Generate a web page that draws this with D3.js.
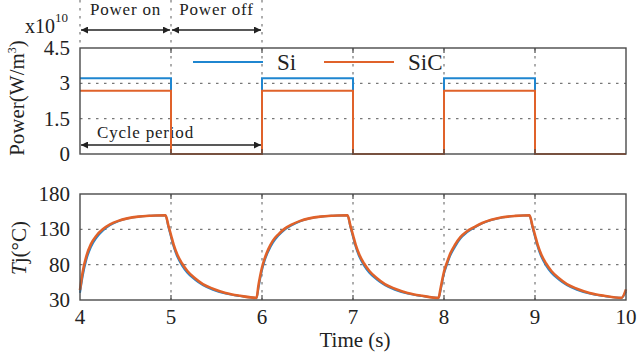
<!DOCTYPE html>
<html>
<head>
<meta charset="utf-8">
<script src="https://cdn.jsdelivr.net/npm/d3@7"></script>
<style>
  body { margin: 0; background: #fff; }
  svg text { font-family: "Liberation Serif", "Times New Roman", "DejaVu Serif", serif; fill: #222; }
</style>
</head>
<body>
<script>
// x axis
var timeTicks = [4, 5, 6, 7, 8, 9, 10]
var powerTicks = [0, 1.5, 3, 4.5]
var tjTicks = [30, 80, 130, 180]

// power pulses (x10^10 W/m^3)
var powerTime = [4, 5, 5, 6, 6, 7, 7, 8, 8, 9, 9, 10]
var powerSi   = [3.22, 3.22, 0, 0, 3.22, 3.22, 0, 0, 3.22, 3.22, 0, 0]
var powerSiC  = [2.68, 2.68, 0, 0, 2.68, 2.68, 0, 0, 2.68, 2.68, 0, 0]

// junction temperature
var tjTime = [
  4.00, 4.03, 4.07, 4.12, 4.18, 4.25, 4.33, 4.42, 4.52, 4.64, 4.78, 4.94,
  4.97, 5.00, 5.03, 5.07, 5.12, 5.18, 5.26, 5.35, 5.46, 5.60, 5.76, 5.94,
  5.96, 5.98, 6.00, 6.03, 6.07, 6.12, 6.18, 6.25, 6.33, 6.42, 6.52, 6.64, 6.78, 6.94,
  6.97, 7.00, 7.03, 7.07, 7.12, 7.18, 7.26, 7.35, 7.46, 7.60, 7.76, 7.94,
  7.96, 7.98, 8.00, 8.03, 8.07, 8.12, 8.18, 8.25, 8.33, 8.42, 8.52, 8.64, 8.78, 8.94,
  8.97, 9.00, 9.03, 9.07, 9.12, 9.18, 9.26, 9.35, 9.46, 9.60, 9.76, 9.95, 10.00
]
var tjSiC = [
  44, 70, 92, 109, 121, 130, 137, 142, 145.5, 148, 149.3, 150,
  136, 122, 108, 94, 82, 71, 61, 52.5, 46, 40, 36, 33,
  50, 64, 76, 89, 102, 114, 123, 131, 137, 142, 145.5, 148, 149.3, 150,
  136, 122, 108, 94, 82, 71, 61, 52.5, 46, 40, 36, 33,
  45, 58, 70, 82, 96, 108, 119, 127, 133, 139, 143.5, 147, 149, 150,
  136, 122, 108, 94, 82, 71, 61, 52.5, 46, 40, 36, 33, 45
]
var tjSi = [
  40, 64, 87, 105, 118, 128, 136, 141.5, 145.3, 147.8, 149.2, 150,
  134, 119, 105, 91, 79, 68.5, 59, 51, 44.5, 39, 35.5, 33,
  46, 60, 72, 86, 99, 111, 121, 129.5, 136, 141.5, 145.3, 147.8, 149.2, 150,
  134, 119, 105, 91, 79, 68.5, 59, 51, 44.5, 39, 35.5, 33,
  42, 55, 67, 79, 93, 105, 117, 125.5, 132, 138.5, 143.2, 146.8, 148.9, 150,
  134, 119, 105, 91, 79, 68.5, 59, 51, 44.5, 39, 35.5, 33, 42
]

var siColor = "#1f86d0"
var sicColor = "#e0622a"
var frameColor = "#4a4a4a"
var gridColor = "#777"
var serif = "'Liberation Serif', 'Times New Roman', 'DejaVu Serif', serif"

var svg = d3.select("body").append("svg")
  .attr("width", 640)
  .attr("height", 354)
  .attr("font-family", serif)

var left = 80, right = 626
var x = d3.scaleLinear().domain([4, 10]).range([left, right])
var yP = d3.scaleLinear().domain([0, 4.5]).range([154, 48])
var yT = d3.scaleLinear().domain([30, 180]).range([300, 194])

var defs = svg.append("defs")
defs.append("marker")
  .attr("id", "head")
  .attr("viewBox", "0 0 10 10")
  .attr("refX", 10).attr("refY", 5)
  .attr("markerWidth", 9).attr("markerHeight", 7)
  .attr("markerUnits", "userSpaceOnUse")
  .attr("orient", "auto-start-reverse")
  .append("path")
    .attr("d", "M0,0L10,5L0,10Z")
    .attr("fill", "#222")

function panel(y, yTicks, fmt) {
  var g = svg.append("g")
  var top = y.range()[1], bottom = y.range()[0]
  // grid
  g.selectAll(".gx")
    .data(timeTicks.slice(1, -1))
    .enter().append("line")
      .attr("x1", function (d) { return x(d) })
      .attr("x2", function (d) { return x(d) })
      .attr("y1", top).attr("y2", bottom)
      .attr("stroke", gridColor).attr("stroke-width", 1.2)
      .attr("stroke-dasharray", "2.5,5.5")
  g.selectAll(".gy")
    .data(yTicks.slice(1, -1))
    .enter().append("line")
      .attr("x1", left).attr("x2", right)
      .attr("y1", function (d) { return y(d) })
      .attr("y2", function (d) { return y(d) })
      .attr("stroke", gridColor).attr("stroke-width", 1.2)
      .attr("stroke-dasharray", "2.5,5.5")
  // tick labels
  g.selectAll(".ly")
    .data(yTicks)
    .enter().append("text")
      .attr("x", left - 10)
      .attr("y", function (d) { return y(d) + 7 })
      .attr("text-anchor", "end")
      .attr("font-size", 21)
      .text(fmt)
  return g
}

function frame(y) {
  var top = y.range()[1], bottom = y.range()[0]
  var g = svg.append("g")
  g.append("rect")
    .attr("x", left).attr("y", top)
    .attr("width", right - left).attr("height", bottom - top)
    .attr("fill", "none").attr("stroke", frameColor).attr("stroke-width", 1.4)
  timeTicks.slice(1, -1).forEach(function (d) {
    g.append("line").attr("x1", x(d)).attr("x2", x(d)).attr("y1", top).attr("y2", top + 5)
      .attr("stroke", frameColor).attr("stroke-width", 1.2)
    g.append("line").attr("x1", x(d)).attr("x2", x(d)).attr("y1", bottom).attr("y2", bottom - 5)
      .attr("stroke", frameColor).attr("stroke-width", 1.2)
  })
}

// ---------- top panel: power ----------
panel(yP, powerTicks, function (d) { return d })

// annotation lines above the plot
svg.selectAll(".ann")
  .data([4, 5, 6])
  .enter().append("line")
    .attr("x1", function (d) { return x(d) })
    .attr("x2", function (d) { return x(d) })
    .attr("y1", 0).attr("y2", 48)
    .attr("stroke", gridColor).attr("stroke-width", 1.2)
    .attr("stroke-dasharray", "2.5,5.5")

var arrows = [[4, 5, 30], [5, 6, 30], [4, 6, 145]]
svg.selectAll(".arr")
  .data(arrows)
  .enter().append("line")
    .attr("x1", function (d) { return x(d[0]) + 1 })
    .attr("x2", function (d) { return x(d[1]) - 1 })
    .attr("y1", function (d) { return d[2] })
    .attr("y2", function (d) { return d[2] })
    .attr("stroke", "#222").attr("stroke-width", 1.3)
    .attr("marker-start", "url(#head)")
    .attr("marker-end", "url(#head)")

svg.append("text").attr("x", x(4.5)).attr("y", 15).attr("text-anchor", "middle")
  .attr("font-size", 17).attr("letter-spacing", 0.8).text("Power on")
svg.append("text").attr("x", x(5.5)).attr("y", 15).attr("text-anchor", "middle")
  .attr("font-size", 17).attr("letter-spacing", 0.8).text("Power off")
svg.append("text").attr("x", 97).attr("y", 138)
  .attr("font-size", 17).attr("letter-spacing", 0.8).text("Cycle period")

var pLine = d3.line()
  .x(function (d) { return x(d[0]) })
  .y(function (d) { return yP(d[1]) })

svg.append("path")
  .datum(d3.zip(powerTime, powerSi))
  .attr("d", pLine)
  .attr("fill", "none").attr("stroke", siColor).attr("stroke-width", 2)
svg.append("path")
  .datum(d3.zip(powerTime, powerSiC))
  .attr("d", pLine)
  .attr("fill", "none").attr("stroke", sicColor).attr("stroke-width", 2)

frame(yP)

// exponent
var ex = svg.append("text").attr("x", 25).attr("y", 33).attr("font-size", 20)
ex.append("tspan").text("x10")
ex.append("tspan").attr("dy", -11).attr("font-size", 13).text("10")

// legend
var legend = [["Si", siColor, 193], ["SiC", sicColor, 324]]
legend.forEach(function (d) {
  svg.append("line").attr("x1", d[2]).attr("x2", d[2] + 70).attr("y1", 62).attr("y2", 62)
    .attr("stroke", d[1]).attr("stroke-width", 2)
  svg.append("text").attr("x", d[2] + 84).attr("y", 70).attr("font-size", 23).text(d[0])
})

// y label
var pl = svg.append("text")
  .attr("transform", "translate(24,98) rotate(-90)")
  .attr("text-anchor", "middle")
  .attr("font-size", 21)
pl.append("tspan").text("Power(W/m")
pl.append("tspan").attr("dy", -8).attr("font-size", 12).text("3")
pl.append("tspan").attr("dy", 8).text(")")

// ---------- bottom panel: Tj ----------
panel(yT, tjTicks, function (d) { return d })

var tLine = d3.line()
  .x(function (d) { return x(d[0]) })
  .y(function (d) { return yT(d[1]) })
  .curve(d3.curveMonotoneX)

svg.append("path")
  .datum(d3.zip(tjTime, tjSi))
  .attr("d", tLine)
  .attr("fill", "none").attr("stroke", siColor).attr("stroke-width", 2)
svg.append("path")
  .datum(d3.zip(tjTime, tjSiC))
  .attr("d", tLine)
  .attr("fill", "none").attr("stroke", sicColor).attr("stroke-width", 2.6)

frame(yT)

svg.selectAll(".lx")
  .data(timeTicks)
  .enter().append("text")
    .attr("x", function (d) { return x(d) })
    .attr("y", 324)
    .attr("text-anchor", "middle")
    .attr("font-size", 21)
    .text(function (d) { return d })

svg.append("text").attr("x", 355).attr("y", 347).attr("text-anchor", "middle")
  .attr("font-size", 21).text("Time (s)")

var tl = svg.append("text")
  .attr("transform", "translate(26,248) rotate(-90)")
  .attr("text-anchor", "middle")
  .attr("font-size", 21)
tl.append("tspan").attr("font-style", "italic").text("T")
tl.append("tspan").text("j(°C)")
</script>
</body>
</html>
